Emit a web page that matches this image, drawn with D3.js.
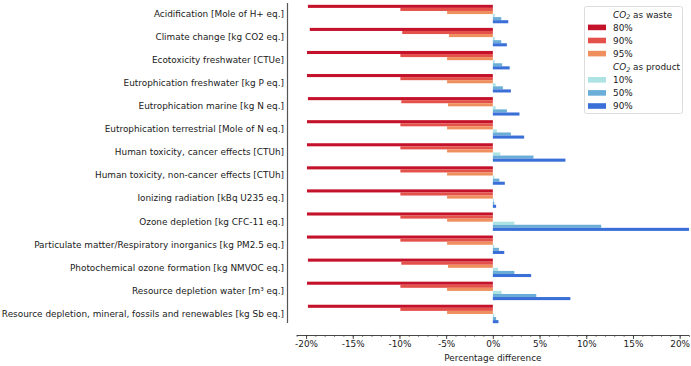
<!DOCTYPE html>
<html>
<head>
<meta charset="utf-8">
<script src="https://cdn.jsdelivr.net/npm/d3@7"></script>
<style>
  body { margin: 0; background: #fff; }
  text { font-family: "DejaVu Sans", sans-serif; fill: #1a1a1a; }
</style>
</head>
<body>
<svg id="chart"></svg>
<script>
// impact categories, top to bottom
const categories = [
    "Acidification [Mole of H+ eq.]",
    "Climate change [kg CO2 eq.]",
    "Ecotoxicity freshwater [CTUe]",
    "Eutrophication freshwater [kg P eq.]",
    "Eutrophication marine [kg N eq.]",
    "Eutrophication terrestrial [Mole of N eq.]",
    "Human toxicity, cancer effects [CTUh]",
    "Human toxicity, non-cancer effects [CTUh]",
    "Ionizing radiation [kBq U235 eq.]",
    "Ozone depletion [kg CFC-11 eq.]",
    "Particulate matter/Respiratory inorganics [kg PM2.5 eq.]",
    "Photochemical ozone formation [kg NMVOC eq.]",
    "Resource depletion water [m\u00b3 eq.]",
    "Resource depletion, mineral, fossils and renewables [kg Sb eq.]"
];

// CO2 as waste (percentage difference)
const waste80 = [-19.8, -19.6, -19.9, -19.9, -19.8, -19.9, -19.9, -19.9, -19.9, -19.9, -19.9, -19.8, -19.9, -19.8];
const waste90 = [-9.9, -9.7, -9.9, -9.9, -9.8, -9.9, -9.9, -9.9, -9.9, -9.9, -9.9, -9.8, -9.9, -9.9];
const waste95 = [-4.9, -4.7, -4.9, -4.9, -4.8, -4.9, -4.9, -4.9, -4.9, -4.9, -4.9, -4.8, -4.9, -4.9];
// CO2 as product (percentage difference)
const prod10 = [0.2, 0.2, 0.2, 0.3, 0.3, 0.43, 0.8, 0.15, 0.1, 2.3, 0.15, 0.55, 0.93, 0.15];
const prod50 = [0.9, 0.9, 1.0, 1.07, 1.5, 1.93, 4.35, 0.7, 0.15, 11.6, 0.65, 2.3, 4.65, 0.35];
const prod90 = [1.65, 1.5, 1.8, 1.93, 2.85, 3.35, 7.77, 1.28, 0.35, 21.5, 1.22, 4.1, 8.3, 0.6];

const seriesNames = ["80%", "90%", "95%", "10%", "50%", "90%"];
const seriesData = [waste80, waste90, waste95, prod10, prod50, prod90];
const seriesColors = ["#c5122b", "#e4504a", "#f08f5e", "#ade3e3", "#6aaed8", "#3a6fd8"];
const xTicks = [-20, -15, -10, -5, 0, 5, 10, 15, 20];

const width = 691;
const height = 366;
const fontSize = "8.9px";

const svg = d3.select("#chart")
    .attr("width", width)
    .attr("height", height);

// scales
const x = d3.scaleLinear()
    .domain([-21, 21])
    .range([296.7, 689]);

const y = d3.scaleBand()
    .domain(categories)
    .range([2.5, 325.5])
    .padding(0);

const ySub = d3.scaleBand()
    .domain(d3.range(seriesData.length))
    .range([y.step() * 0.1, y.step() * 0.9]);

svg.append("clipPath")
    .attr("id", "plotClip")
    .append("rect")
    .attr("x", x.range()[0])
    .attr("y", 0)
    .attr("width", x.range()[1] - x.range()[0])
    .attr("height", 330);

// bars
const barsG = svg.append("g").attr("clip-path", "url(#plotClip)");
seriesData.forEach(function(vals, s) {
    barsG.append("g")
        .selectAll("rect")
        .data(vals)
        .join("rect")
        .attr("x", d => x(Math.min(0, d)))
        .attr("width", d => Math.abs(x(d) - x(0)))
        .attr("y", (d, i) => y(categories[i]) + ySub(s))
        .attr("height", ySub.bandwidth())
        .attr("fill", seriesColors[s]);
});

// y axis (offset spine)
const yAxis = svg.append("g")
    .attr("transform", "translate(287,0)")
    .call(d3.axisLeft(y).tickSize(0).tickPadding(3));
yAxis.select(".domain").attr("stroke", "#555").attr("stroke-width", 1.2)
    .attr("d", "M0.5,3V323");
yAxis.selectAll("text").style("font-size", fontSize);

// x axis minor ticks
const xMinor = svg.append("g")
    .attr("transform", "translate(0,335)")
    .call(d3.axisBottom(x).tickValues(d3.range(-21, 22, 1)).tickSize(2).tickFormat(""));
xMinor.select(".domain").remove();
xMinor.selectAll("line").attr("stroke", "#333").attr("stroke-width", 0.6);

// x axis major ticks
const xAxis = svg.append("g")
    .attr("transform", "translate(0,335)")
    .call(d3.axisBottom(x).tickValues(xTicks).tickSize(4).tickPadding(2)
        .tickFormat(d => d + "%"));
xAxis.select(".domain").attr("stroke", "#333").attr("stroke-width", 0.9)
    .attr("d", "M" + x.range()[0] + ",0.5H" + x.range()[1]);
xAxis.selectAll("line").attr("stroke", "#333").attr("stroke-width", 0.9);
xAxis.selectAll("text").style("font-size", fontSize);

svg.append("text")
    .attr("x", x(0))
    .attr("y", 361)
    .attr("text-anchor", "middle")
    .style("font-size", fontSize)
    .text("Percentage difference");

// legend
const legend = svg.append("g");
legend.append("rect")
    .attr("x", 584.5).attr("y", 6.5)
    .attr("width", 98).attr("height", 107)
    .attr("rx", 2)
    .attr("fill", "#fff")
    .attr("stroke", "#dcdcdc");

const legendRows = [
    { title: "as waste" },
    { s: 0 }, { s: 1 }, { s: 2 },
    { title: "as product" },
    { s: 3 }, { s: 4 }, { s: 5 }
];

legendRows.forEach(function(row, i) {
    const cy = 14.3 + i * 13.1;
    if (row.title) {
        const t = legend.append("text")
            .attr("x", 613).attr("y", cy + 3.2)
            .style("font-size", fontSize);
        t.append("tspan").style("font-style", "italic").text("CO");
        t.append("tspan").attr("dy", 1.8).style("font-size", "6.3px").style("font-style", "italic").text("2");
        t.append("tspan").attr("dy", -1.8).text(" " + row.title);
    } else {
        legend.append("rect")
            .attr("x", 588).attr("y", cy - 2.8)
            .attr("width", 18).attr("height", 5.6)
            .attr("fill", seriesColors[row.s]);
        legend.append("text")
            .attr("x", 613).attr("y", cy + 3.2)
            .style("font-size", fontSize)
            .text(seriesNames[row.s]);
    }
});
</script>
</body>
</html>
